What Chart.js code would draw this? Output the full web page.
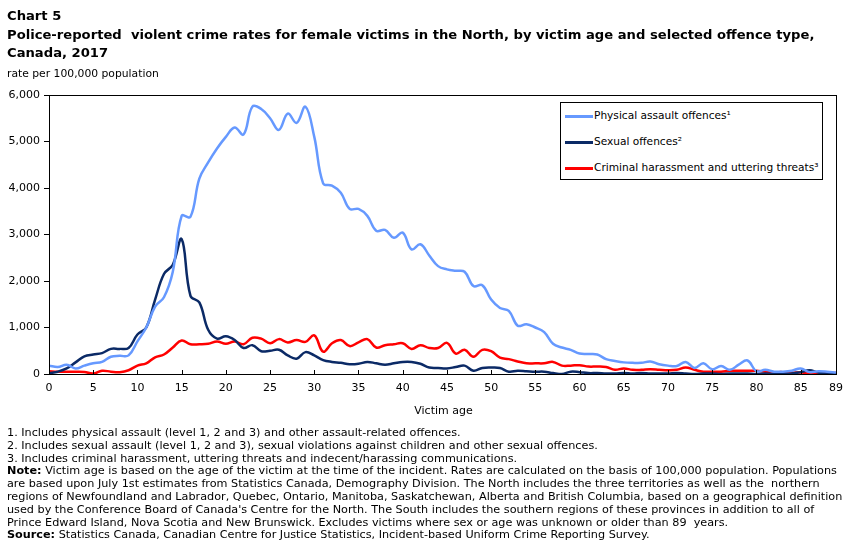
<!DOCTYPE html>
<html>
<head>
<meta charset="utf-8">
<script src="https://cdn.jsdelivr.net/npm/chart.js@4.4.1/dist/chart.umd.min.js"></script>
<style>
  html,body{margin:0;padding:0;background:#fff;}
  body{width:851px;height:548px;position:relative;overflow:hidden;font-family:"DejaVu Sans",Verdana,sans-serif;color:#000;}
  #c{position:absolute;left:0;top:0;}
  .t{position:absolute;left:7px;white-space:nowrap;}
  .t span{display:inline-block;white-space:nowrap;}
  #title{top:7px;font-weight:bold;font-size:13px;line-height:18.5px;}
  #unit{top:67px;font-size:11px;line-height:13px;}
  #xlab{position:absolute;top:404px;left:18px;width:851px;text-align:center;font-size:11px;}
  #notes{top:427px;font-size:11px;line-height:12.8px;}
  #legend{position:absolute;left:560px;top:102px;width:261px;height:76px;border:1px solid #000;background:#fff;font-size:10.6px;}
  .li{position:absolute;left:4px;height:14px;white-space:nowrap;}
  .li span.sw{display:inline-block;width:28px;height:3px;vertical-align:middle;margin-right:1px;}
</style>
</head>
<body>
<canvas id="c" width="851" height="548"></canvas>
<div class="t" id="title">Chart 5<br><span id="tline">Police-reported&nbsp; violent crime rates for female victims in the North, by victim age and selected offence type,</span><br>Canada, 2017</div>
<div class="t" id="unit"><span id="uline">rate per 100,000 population</span></div>
<div id="xlab">Victim age</div>
<div id="legend"></div>
<div class="t" id="notes">1. Includes physical assault (level 1, 2 and 3) and other assault-related offences.<br>2. Includes sexual assault (level 1, 2 and 3), sexual violations against children and other sexual offences.<br>3. Includes criminal harassment, uttering threats and indecent/harassing communications.<br><span id="nline"><b>Note:</b> Victim age is based on the age of the victim at the time of the incident. Rates are calculated on the basis of 100,000 population. Populations</span><br>are based upon July 1st estimates from Statistics Canada, Demography Division. The North includes the three territories as well as the&nbsp; northern<br>regions of Newfoundland and Labrador, Quebec, Ontario, Manitoba, Saskatchewan, Alberta and British Columbia, based on a geographical definition<br>used by the Conference Board of Canada's Centre for the North. The South includes the southern regions of these provinces in addition to all of<br>Prince Edward Island, Nova Scotia and New Brunswick. Excludes victims where sex or age was unknown or older than 89&nbsp; years.<br><b>Source:</b> Statistics Canada, Canadian Centre for Justice Statistics, Incident-based Uniform Crime Reporting Survey.</div>
<script>
// ---- data ----
const ages = Array.from({length: 90}, (_, i) => i); // victim age 0..89
const xTickLabels = [0,5,10,15,20,25,30,35,40,45,50,55,60,65,70,75,80,85,89];
const seriesNames = ["Physical assault offences\u00b9", "Sexual offences\u00b2", "Criminal harassment and uttering threats\u00b3"];
const physicalAssault = [
  180,150,200,120,180,230,260,370,390,400,
  700,1000,1450,1650,2200,3400,3380,4200,4550,4850,
  5100,5300,5150,5750,5700,5500,5250,5600,5400,5750,
  5100,4100,4050,3900,3550,3550,3400,3080,3100,2930,
  3040,2680,2790,2550,2320,2250,2220,2200,1890,1910,
  1600,1420,1360,1040,1070,1000,900,650,570,520,
  440,430,420,320,280,250,240,240,270,210,
  180,170,260,130,230,100,170,90,200,290,
  60,90,50,50,70,120,40,60,50,30];
const sexualOffences = [
  15,50,120,250,380,420,450,540,540,560,
  850,1000,1600,2150,2350,2900,1680,1540,950,760,
  810,730,560,620,490,500,520,400,330,470,
  400,300,260,240,210,220,260,230,200,230,
  260,260,220,140,130,120,150,180,70,130,
  140,130,50,70,60,50,50,20,0,50,
  40,20,20,10,10,20,10,20,10,10,
  10,20,10,0,10,10,0,10,10,10,
  0,10,0,10,10,40,80,30,10,0];
const harassmentThreats = [
  60,50,50,50,45,10,70,50,40,80,
  180,230,360,420,570,720,640,640,650,700,
  650,700,640,780,760,660,750,680,730,690,
  830,480,660,730,600,680,750,570,620,640,
  660,540,620,560,560,670,440,520,370,520,
  490,350,320,270,230,230,230,260,180,180,
  190,160,160,150,90,120,90,90,100,90,
  80,90,140,90,50,50,50,70,70,70,
  70,50,40,40,30,30,20,15,20,20];
const colors = ["#6699ff", "#0b2a66", "#ff0000"];

const allSeries = [physicalAssault, sexualOffences, harassmentThreats];

// fit text blocks to the reference line widths
function fit(blockId, spanId, target) {
  const b = document.getElementById(blockId), s = document.getElementById(spanId);
  const fs = parseFloat(getComputedStyle(b).fontSize);
  const w = s.getBoundingClientRect().width;
  b.style.fontSize = (fs * target / w).toFixed(2) + 'px';
}
fit('title', 'tline', 808);
fit('unit', 'uline', 152);
fit('notes', 'nline', 831);

// legend
const lg = document.getElementById('legend');
seriesNames.forEach((n, i) => {
  const d = document.createElement('div');
  d.className = 'li';
  d.style.top = (6 + i * 26) + 'px';
  d.innerHTML = '<span class="sw" style="background:' + colors[i] + '"></span>' + n;
  lg.appendChild(d);
});

const frame = {
  id: 'frame',
  afterDraw(chart) {
    const a = chart.chartArea, ctx = chart.ctx;
    ctx.save();
    ctx.strokeStyle = '#000';
    ctx.lineWidth = 1;
    ctx.strokeRect(Math.round(a.left) + 0.5, Math.round(a.top) + 0.5, Math.round(a.right - a.left), Math.round(a.bottom - a.top));
    const xs = chart.scales.x;
    ctx.beginPath();
    xTickLabels.forEach(v => {
      const px = Math.round(xs.getPixelForValue(v)) + 0.5;
      ctx.moveTo(px, a.bottom);
      ctx.lineTo(px, a.bottom - 4);
    });
    ctx.stroke();
    ctx.restore();
  }
};

new Chart(document.getElementById('c'), {
  type: 'line',
  data: {
    datasets: allSeries.map((s, i) => ({
      label: seriesNames[i],
      data: ages.map((a, j) => ({x: a, y: s[j]})),
      borderColor: colors[i],
      backgroundColor: colors[i],
      borderWidth: 2.5,
      pointRadius: 0,
      tension: 0.4,
      fill: false
    }))
  },
  options: {
    responsive: false,
    animation: false,
    devicePixelRatio: 1,
    layout: {padding: {top: 95, right: 15, left: 0, bottom: 144}},
    plugins: {legend: {display: false}, tooltip: {enabled: false}},
    scales: {
      x: {
        type: 'linear', min: 0, max: 89,
        afterBuildTicks: s => { s.ticks = xTickLabels.map(v => ({value: v})); },
        afterFit: s => { s.height = 30; },
        grid: {display: false, drawTicks: false},
        border: {display: false},
        ticks: {padding: 8, maxRotation: 0, autoSkip: false, color: '#000', font: {family: 'DejaVu Sans', size: 11}}
      },
      y: {
        min: 0, max: 6000,
        afterFit: s => { s.width = 49; },
        grid: {drawOnChartArea: false, drawTicks: true, tickLength: 5, color: '#000'},
        border: {display: false},
        ticks: {stepSize: 1000, padding: 4, color: '#000', font: {family: 'DejaVu Sans', size: 11}}
      }
    }
  },
  plugins: [frame]
});
</script>
</body>
</html>
